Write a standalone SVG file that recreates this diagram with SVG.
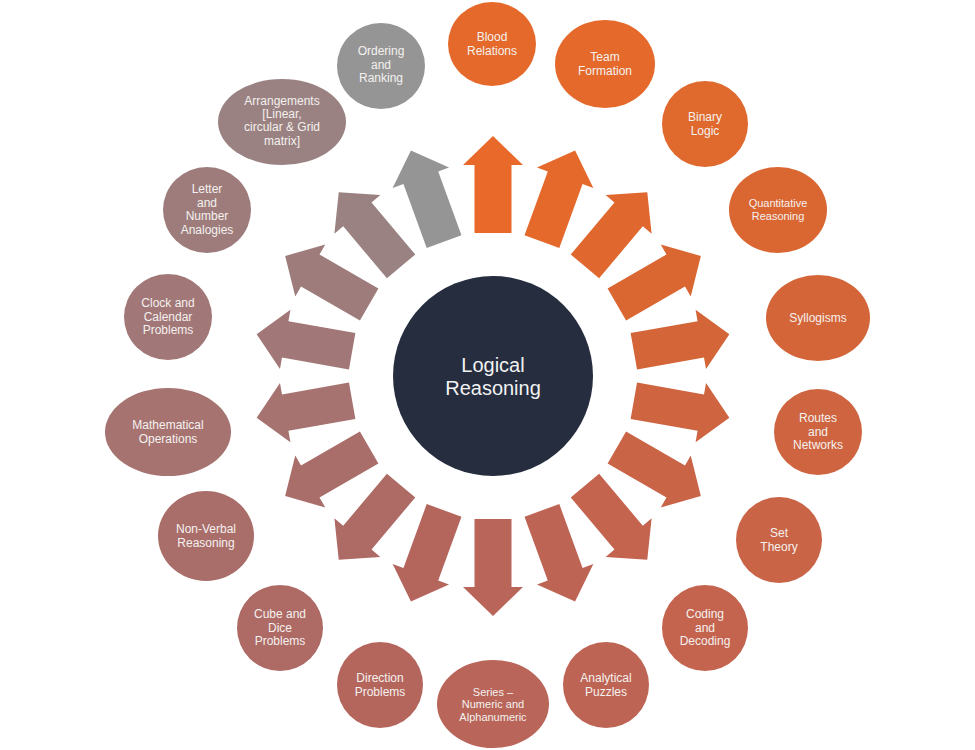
<svg xmlns="http://www.w3.org/2000/svg" xmlns:xlink="http://www.w3.org/1999/xlink" width="975" height="750" viewBox="0 0 975 750">
<style>
.t{font-family:"Liberation Sans",Arial,sans-serif;font-size:12px;fill:#F4F1EF;text-anchor:middle}
.s{font-size:11px}
.c{font-family:"Liberation Sans",Arial,sans-serif;font-size:20px;fill:#F2F2F2;text-anchor:middle}
</style>
<defs>
<path id="arr" d="M636 357.5 L704 357.5 L704 346 L733 376 L704 406 L704 394.5 L636 394.5 Z"/>
</defs>
<rect width="975" height="750" fill="#FFFFFF"/>
<g id="connectors">
<use xlink:href="#arr" transform="rotate(-90 493 376)" fill="#E8692A"/>
<use xlink:href="#arr" transform="rotate(-70 493 376)" fill="#E5692B"/>
<use xlink:href="#arr" transform="rotate(-50 493 376)" fill="#E0682E"/>
<use xlink:href="#arr" transform="rotate(-30 493 376)" fill="#DA6632"/>
<use xlink:href="#arr" transform="rotate(-10 493 376)" fill="#D46538"/>
<use xlink:href="#arr" transform="rotate(10 493 376)" fill="#CF6440"/>
<use xlink:href="#arr" transform="rotate(30 493 376)" fill="#C96447"/>
<use xlink:href="#arr" transform="rotate(50 493 376)" fill="#C4634E"/>
<use xlink:href="#arr" transform="rotate(70 493 376)" fill="#BE6454"/>
<use xlink:href="#arr" transform="rotate(90 493 376)" fill="#B96559"/>
<use xlink:href="#arr" transform="rotate(110 493 376)" fill="#B4665D"/>
<use xlink:href="#arr" transform="rotate(130 493 376)" fill="#AE6A64"/>
<use xlink:href="#arr" transform="rotate(150 493 376)" fill="#AA6E6A"/>
<use xlink:href="#arr" transform="rotate(170 493 376)" fill="#A67371"/>
<use xlink:href="#arr" transform="rotate(190 493 376)" fill="#A27777"/>
<use xlink:href="#arr" transform="rotate(210 493 376)" fill="#9E7C7C"/>
<use xlink:href="#arr" transform="rotate(230 493 376)" fill="#9A8282"/>
<use xlink:href="#arr" transform="rotate(250 493 376)" fill="#959595"/>
</g>
<g id="center">
<circle cx="493" cy="376" r="100" fill="#252D3F"/>
<text class="c" x="493" y="372">Logical</text>
<text class="c" x="493" y="395">Reasoning</text>
</g>
<g id="blood"><ellipse cx="492" cy="44" rx="44" ry="42" fill="#E5692A"/>
<text class="t" x="492" y="41">Blood</text><text class="t" x="492" y="55">Relations</text></g>
<g id="team"><ellipse cx="605" cy="64" rx="50" ry="44" fill="#E4692B"/>
<text class="t" x="605" y="61">Team</text><text class="t" x="605" y="75">Formation</text></g>
<g id="binary"><ellipse cx="705" cy="124" rx="43" ry="43" fill="#E06A2E"/>
<text class="t" x="705" y="121">Binary</text><text class="t" x="705" y="135">Logic</text></g>
<g id="quant"><ellipse cx="778" cy="210" rx="49" ry="43" fill="#DA6632"/>
<text class="t s" x="778" y="207">Quantitative</text><text class="t s" x="778" y="220">Reasoning</text></g>
<g id="syll"><ellipse cx="818" cy="318" rx="52" ry="43" fill="#D46539"/>
<text class="t" x="818" y="322">Syllogisms</text></g>
<g id="routes"><ellipse cx="818" cy="432" rx="44" ry="43" fill="#CF6440"/>
<text class="t" x="818" y="422">Routes</text><text class="t" x="818" y="436">and</text><text class="t" x="818" y="449">Networks</text></g>
<g id="set"><ellipse cx="779" cy="540" rx="43" ry="43" fill="#C96447"/>
<text class="t" x="779" y="537">Set</text><text class="t" x="779" y="551">Theory</text></g>
<g id="coding"><ellipse cx="705" cy="628" rx="43" ry="43" fill="#C4634E"/>
<text class="t" x="705" y="618">Coding</text><text class="t" x="705" y="632">and</text><text class="t" x="705" y="645">Decoding</text></g>
<g id="analytical"><ellipse cx="606" cy="685" rx="43" ry="43" fill="#BE6454"/>
<text class="t" x="606" y="682">Analytical</text><text class="t" x="606" y="696">Puzzles</text></g>
<g id="series"><ellipse cx="493" cy="704" rx="56" ry="44" fill="#B96559"/>
<text class="t s" x="493" y="696">Series –</text><text class="t s" x="493" y="708">Numeric and</text><text class="t s" x="493" y="721">Alphanumeric</text></g>
<g id="direction"><ellipse cx="380" cy="685" rx="43" ry="43" fill="#B4665D"/>
<text class="t" x="380" y="682">Direction</text><text class="t" x="380" y="696">Problems</text></g>
<g id="cube"><ellipse cx="280" cy="628" rx="43" ry="43" fill="#AE6A64"/>
<text class="t" x="280" y="618">Cube and</text><text class="t" x="280" y="632">Dice</text><text class="t" x="280" y="645">Problems</text></g>
<g id="nonverbal"><ellipse cx="206" cy="536" rx="48" ry="45" fill="#AA6E6A"/>
<text class="t" x="206" y="533">Non-Verbal</text><text class="t" x="206" y="547">Reasoning</text></g>
<g id="math"><ellipse cx="168" cy="432" rx="63" ry="44" fill="#A67371"/>
<text class="t" x="168" y="429">Mathematical</text><text class="t" x="168" y="443">Operations</text></g>
<g id="clock"><ellipse cx="168" cy="317" rx="44" ry="43" fill="#A27777"/>
<text class="t" x="168" y="307">Clock and</text><text class="t" x="168" y="321">Calendar</text><text class="t" x="168" y="334">Problems</text></g>
<g id="letter"><ellipse cx="207" cy="210" rx="44" ry="43" fill="#9E7C7C"/>
<text class="t" x="207" y="193">Letter</text><text class="t" x="207" y="207">and</text><text class="t" x="207" y="220">Number</text><text class="t" x="207" y="234">Analogies</text></g>
<g id="arrangements"><ellipse cx="282" cy="122" rx="64" ry="43" fill="#9A8282"/>
<text class="t" x="282" y="105">Arrangements</text><text class="t" x="282" y="118">[Linear,</text><text class="t" x="282" y="131">circular &amp; Grid</text><text class="t" x="282" y="145">matrix]</text></g>
<g id="ordering"><ellipse cx="381" cy="66" rx="44" ry="43" fill="#959595"/>
<text class="t" x="381" y="55">Ordering</text><text class="t" x="381" y="69">and</text><text class="t" x="381" y="82">Ranking</text></g>
</svg>
